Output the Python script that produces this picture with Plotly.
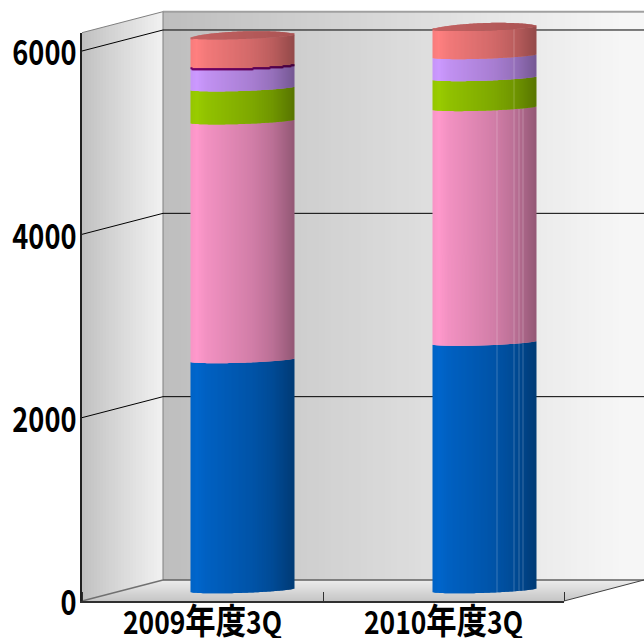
import math
import plotly.graph_objects as go

categories = ["2009年度3Q", "2010年度3Q"]
tick_values = [0, 2000, 4000, 6000]
series_blue = [2510, 2700]
series_pink = [2605, 2560]
series_green = [360, 327]
series_purple = [240, 240]
series_red = [327, 306]
series = [series_blue, series_pink, series_green, series_purple, series_red]
palette = [(0, 102, 204), (255, 153, 204), (153, 204, 0), (204, 153, 255), (255, 128, 128)]

W, H = 644, 638
PX = 550 / 6000  # pixels per value unit
FX, BX = 82, 163  # front / back left corners
FY0, BY0 = 601, 580  # zero line on the front / back planes
YMAX = 6200


def ydom(top, bottom):
    return [1 - bottom / H, 1 - top / H]


def mix(c1, c2, t):
    return "#%02x%02x%02x" % tuple(round(a + (b - a) * t) for a, b in zip(c1, c2))


def shade_factor(t):
    pts = [(0, .97), (.06, 1.0), (.15, .95), (.6, .82), (.8, .73), (1, .58)]
    for (a, fa), (b, fb) in zip(pts, pts[1:]):
        if t <= b:
            return fa + (fb - fa) * (t - a) / (b - a)
    return pts[-1][1]


def shaded(c, t, lighten=0.0):
    f = shade_factor(t)
    rgb = [v * f for v in c]
    rgb = [v + (255 - v) * lighten for v in rgb]
    return "#%02x%02x%02x" % tuple(round(v) for v in rgb)


# cylinder geometry, in pixels
SLICES = 103
SLICE_W = 0.98 / 242
TILT = 3.5
SAG = 2.6
BACK = 5.0


def front_offset(t):
    return (TILT * t - SAG * math.sin(math.pi * t) ** 0.5) / PX


def back_offset(t):
    return (TILT * t + BACK * math.sin(math.pi * t) ** 0.5) / PX


seams = {1: {497 - 433: [0, 1], 514 - 433: [0, 1, 2, 3, 4], 519 - 433: [0, 1], 523 - 433: [0, 1]}}

traces = []
for si, vals in enumerate(series):
    xs, ys, bases, cols = [], [], [], []
    for ci, v in enumerate(vals):
        below = sum(s[ci] for s in series[:si])
        for i in range(SLICES):
            t = (i + .5) / SLICES
            xs.append(ci + (i + .5 - SLICES / 2) / 242)
            ys.append(v)
            bases.append(below + front_offset(t))
            seam = si in seams.get(ci, {}).get(i, [])
            cols.append(shaded(palette[si], t, .22 if seam else 0))
    traces.append(go.Bar(x=xs, y=ys, base=bases, width=SLICE_W, name=f"系列{si + 1}",
                         marker=dict(color=cols, line=dict(width=0)),
                         xaxis="x2", yaxis="y2", hoverinfo="skip", showlegend=False))

# thin dark seam under the red block of the first cylinder
xs, ys, bases, cols = [], [], [], []
below = sum(s[0] for s in series[:4])
for i in range(SLICES):
    t = (i + .5) / SLICES
    xs.append((i + .5 - SLICES / 2) / 242)
    ys.append(1.2 / PX)
    bases.append(below + front_offset(t) - 0.8 / PX)
    cols.append(shaded((115, 0, 105), t))
traces.append(go.Bar(x=xs, y=ys, base=bases, width=SLICE_W, marker=dict(color=cols, line=dict(width=0)),
                     xaxis="x2", yaxis="y2", hoverinfo="skip", showlegend=False))

# top caps
xs, ys, bases, cols = [], [], [], []
for ci in range(len(categories)):
    top = sum(s[ci] for s in series)
    for i in range(SLICES):
        t = (i + .5) / SLICES
        xs.append(ci + (i + .5 - SLICES / 2) / 242)
        bases.append(top + front_offset(t))
        ys.append(back_offset(t) - front_offset(t))
        cols.append(mix((196, 98, 98), (170, 84, 84), t))
traces.append(go.Bar(x=xs, y=ys, base=bases, width=SLICE_W, marker=dict(color=cols, line=dict(width=0)),
                     xaxis="x2", yaxis="y2", hoverinfo="skip", showlegend=False))

# walls
shapes = []


def poly(points, fill=None, line=None, lw=0):
    path = "M" + "L".join(f"{x / W:.5f},{1 - y / H:.5f}" for x, y in points)
    d = dict(type="path", xref="paper", yref="paper", path=path + ("Z" if fill else ""), layer="below",
             line=dict(width=lw, color=line or "rgba(0,0,0,0)"))
    if fill:
        d["fillcolor"] = fill
    shapes.append(d)


TOPF = FY0 - YMAX * PX
TOPB = BY0 - YMAX * PX
# side wall
slope = (FY0 - BY0) / (BX - FX)
for x in range(FX, BX, 3):
    x2 = min(x + 3, BX)
    g = 192 + (242 - 192) * ((x - FX) / (BX - FX)) ** .9
    c = (round(g),) * 3
    poly([(x, TOPF - (x - FX) * slope), (x2, TOPF - (x2 - FX) * slope),
          (x2, FY0 - (x2 - FX) * slope), (x, FY0 - (x - FX) * slope)], mix(c, c, 0))
# back wall
for x in range(BX, W, 6):
    x2 = min(x + 6, W)
    g = 190 + (246 - 190) * min(1, (x - BX) / (W - BX) * 1.05)
    c = (round(g),) * 3
    poly([(x, TOPB), (x2, TOPB), (x2, BY0), (x, BY0)], mix(c, c, 0))
# floor
for y in range(BY0, FY0, 1):
    g = 236 + (196 - 236) * (y - BY0) / (FY0 - BY0)
    c = (round(g),) * 3
    xl = BX - (y - BY0) / slope
    xr = 644 - (y - BY0) * 80 / 21
    poly([(xl, y), (xr, y), (xr - 80 / 21, y + 1), (xl - 1 / slope, y + 1)], mix(c, c, 0))

# structural edges
poly([(FX, TOPF), (BX, TOPB)], line="#808080", lw=1)
poly([(BX, TOPB), (W, TOPB)], line="#a0a0a0", lw=2)
poly([(BX, TOPB), (BX, BY0)], line="#808080", lw=1)
poly([(FX, FY0), (BX, BY0)], line="#707070", lw=1.5)
poly([(BX, BY0), (W, BY0)], line="#606060", lw=1.5)
poly([(564, FY0), (W, BY0)], line="#404040", lw=1)
# gridlines from the tick values
for v in tick_values[1:]:
    poly([(FX, FY0 - v * PX), (BX, BY0 - v * PX), (W, BY0 - v * PX)], line="#000000", lw=1)

FONT = "Noto Sans CJK JP, sans-serif"
ticktext = [c.replace("年度", '<span style="font-size:38px">年度</span>') for c in categories]

layout = go.Layout(
    template="none",
    width=W, height=H, margin=dict(l=0, r=0, t=0, b=0, pad=0), autosize=False,
    paper_bgcolor="white", plot_bgcolor="rgba(0,0,0,0)", barmode="overlay", showlegend=False,
    shapes=shapes,
    xaxis=dict(domain=[FX / W, 564 / W], range=[-.5, 1.5], tickmode="array", tickvals=list(range(len(categories))),
               ticktext=ticktext, ticks="", showgrid=False, zeroline=False, showline=True, linecolor="#303030",
               linewidth=2, tickfont=dict(family=FONT, size=33, color="black", weight="bold"),
               minor=dict(tickvals=[-.5, .5, 1.5], ticks="inside", ticklen=9, tickcolor="#303030", tickwidth=1),
               ticklabelstandoff=-6, automargin=False),
    yaxis=dict(domain=ydom(FY0 - YMAX * PX, FY0), range=[0, YMAX], tickmode="array", tickvals=tick_values,
               ticks="", showgrid=False, zeroline=False, showline=True, linecolor="#202020", linewidth=1.5,
               tickfont=dict(family=FONT, size=34, color="black", weight="bold"), ticklabelstandoff=-3,
               automargin=False),
    xaxis2=dict(domain=[121.5 / W, 605.5 / W], range=[-.5, 1.5], visible=False, anchor="y2", automargin=False),
    yaxis2=dict(domain=ydom(592 - 6400 * PX, 592 + 100 * PX), range=[-100, 6400], visible=False, anchor="x2",
                automargin=False),
)

# condense the gothic tick labels horizontally, keeping them real text
POST = """
document.body.style.margin='0';document.body.style.overflow='hidden';
(function(){
  var gd=document.getElementById('{plot_id}');
  function squeeze(sel,sx,sy,anchor,dy){
    gd.querySelectorAll(sel).forEach(function(t){
      if(t.dataset.sq) return; t.dataset.sq='1';
      var b=t.getBBox(); var cx=anchor==='end'?b.x+b.width:b.x+b.width/2; var cy=b.y+b.height/2;
      var old=t.getAttribute('transform')||'';
      t.setAttribute('transform',old+' translate('+cx+','+(cy+dy)+') scale('+sx+','+sy+') translate('+(-cx)+','+(-cy)+')');
    });
  }
  function run(){squeeze('.xtick text',0.8,0.94,'mid',-1.5);squeeze('.ytick text',0.8,1.0,'end',2.5);}
  setTimeout(run,0);setTimeout(run,200);
})();
"""
base_trace = go.Scatter(x=[0], y=[0], mode="markers", marker=dict(opacity=0), hoverinfo="skip", showlegend=False)
fig = go.Figure(data=[base_trace] + traces, layout=layout)
fig.write_html("out.html", config=dict(displayModeBar=False), post_script=POST)
